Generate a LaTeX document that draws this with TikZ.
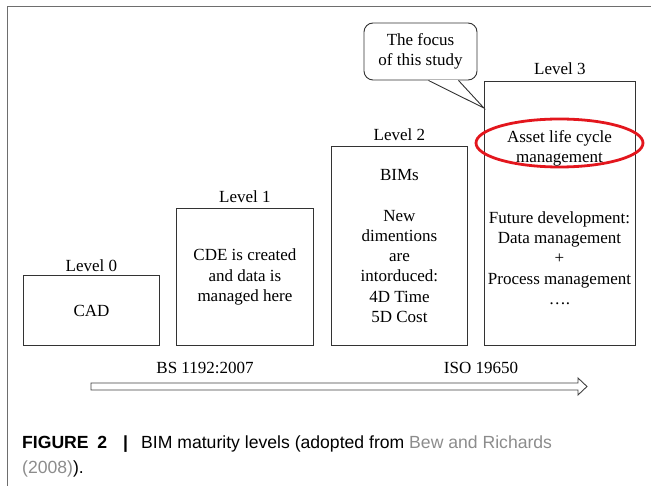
\documentclass[tikz,border=0pt]{standalone}
\usepackage{fontspec}
\setmainfont{Liberation Serif}
\newfontfamily\capfont{Liberation Sans}
\usepackage{xcolor}
\usepackage{tikz}
\usetikzlibrary{positioning, shapes.geometric}

\definecolor{framegray}{HTML}{6E6E6E}
\definecolor{focusred}{HTML}{E3161D}
\definecolor{refgray}{HTML}{8C8C8C}

\begin{document}
\begin{tikzpicture}[
  x=1pt, y=-1pt,
  font=\fontsize{17}{20.3}\selectfont,
  lvlbox/.style={draw=black!80, line width=0.9pt, rectangle, align=center, anchor=south west, inner sep=0pt},
  txt/.style={align=center, inner sep=0pt},
  ring/.style={draw=focusred, line width=2.8pt, ellipse, minimum width=167, minimum height=48, inner sep=0pt},
  timeline/.style={draw=black!75, line width=0.9pt, line join=miter},
  capline/.style={font=\capfont\fontsize{17.6}{24}\selectfont, anchor=base west, inner sep=0pt}
]
\useasboundingbox (0,0) rectangle (651,486);
\draw[framegray, line width=1.5pt] (651,6.5) -- (7.5,6.5) -- (7.5,486);

\node[lvlbox, minimum width=136, minimum height=70] (lvl0) at (23,346) {CAD};
\node[lvlbox, minimum width=137, minimum height=137] (lvl1) at (176,346) {CDE is created\\and data is\\managed here};
\node[lvlbox, minimum width=136, minimum height=199] (lvl2) at (331,346) {BIMs\\[20.3pt]New\\dimentions\\are\\intorduced:\\4D Time\\5D Cost};
\node[lvlbox, minimum width=151, minimum height=264] (lvl3) at (484,346) {};

\node[above=0pt of lvl0] (lab0) {Level 0};
\node[above=2pt of lvl1] (lab1) {Level 1};
\node[above=2pt of lvl2] (lab2) {Level 2};
\node[above=3pt of lvl3] (lab3) {Level 3};

\node[ring] (focus) at (559.5,143) {};
\node[txt] (alc) at (559.5,148.5) {Asset life cycle\\management};
\node[txt] (future) at (559.5,258) {Future development:\\Data management\\+\\Process management\\….};

\node[draw=black!80, line width=0.9pt, rounded corners=9pt, fill=white, align=center,
  minimum width=113, minimum height=57] (note) at (420.5,51.5) {The focus\\of this study};
\coordinate (tip) at ([yshift=-27pt]lvl3.north west);
\draw[draw=black!80, fill=white, line width=0.9pt] ([xshift=8pt]note.south) -- (tip) -- ([xshift=38pt]note.south);
\draw[white, line width=1.6pt] ([xshift=9pt]note.south) -- ([xshift=37pt]note.south);

\draw[timeline] (91,383) -- (578,383) -- (578,378) -- (587,386.5) -- (578,395) -- (578,390) -- (91,390) -- cycle;
\node (bs) at (205,368) {BS 1192:2007};
\node (iso) at (481,368) {ISO 19650};

\node[capline] (cap1) at (22,449) {\textbf{FIGURE\hspace{0.5em}2\hspace{0.9em}|}\hspace{0.75em}BIM maturity levels (adopted from \textcolor{refgray}{Bew and Richards}};
\node[capline] (cap2) at (22,473) {\textcolor{refgray}{(2008)}).};
\end{tikzpicture}
\end{document}
